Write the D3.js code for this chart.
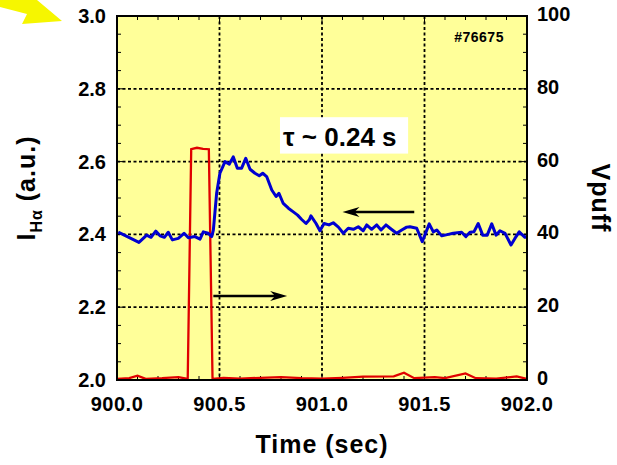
<!DOCTYPE html>
<html>
<head>
<meta charset="utf-8">
<script src="https://cdn.jsdelivr.net/npm/d3@7"></script>
<style>
  body { margin: 0; background: #fff; }
  text { font-family: "Liberation Sans", Arial, sans-serif; font-weight: bold; fill: #000; }
</style>
</head>
<body>
<div id="chart"></div>
<script>
// blue trace: H-alpha intensity (left axis)
var haTime = [900.006,900.107,900.145,900.166,900.189,900.210,900.231,900.250,900.270,900.299,900.327,900.348,900.380,900.405,900.421,900.445,900.462,900.470,900.486,900.502,900.527,900.548,900.567,900.587,900.608,900.628,900.649,900.673,900.694,900.711,900.730,900.755,900.776,900.790,900.811,900.836,900.860,900.881,900.901,900.922,900.938,900.946,900.971,900.990,901.010,901.034,901.055,901.080,901.104,901.128,901.153,901.177,901.201,901.218,901.242,901.267,901.288,901.312,901.332,901.364,901.389,901.413,901.429,901.462,901.489,901.523,901.543,901.560,901.584,901.616,901.640,901.681,901.702,901.722,901.741,901.762,901.784,901.806,901.828,901.849,901.868,901.893,901.922,901.941,901.962,901.990,902.0];
var haValue = [2.406,2.378,2.398,2.392,2.409,2.396,2.392,2.406,2.385,2.389,2.403,2.391,2.394,2.387,2.407,2.403,2.394,2.412,2.513,2.568,2.600,2.593,2.613,2.582,2.582,2.609,2.579,2.568,2.561,2.568,2.559,2.522,2.504,2.513,2.485,2.472,2.462,2.453,2.441,2.430,2.440,2.451,2.430,2.410,2.430,2.426,2.432,2.420,2.403,2.417,2.414,2.421,2.410,2.426,2.414,2.426,2.412,2.426,2.417,2.403,2.412,2.420,2.421,2.417,2.380,2.429,2.407,2.412,2.396,2.400,2.403,2.406,2.394,2.406,2.407,2.430,2.398,2.398,2.429,2.398,2.410,2.403,2.371,2.389,2.407,2.392,2.395];

// red trace: puff valve voltage (right axis)
var puffTime = [900.00,900.06,900.10,900.14,900.22,900.30,900.345,900.362,900.39,900.42,900.448,900.466,900.52,900.60,900.70,900.80,900.90,901.00,901.10,901.20,901.35,901.40,901.45,901.55,901.60,901.70,901.75,901.85,901.95,902.00];
var puffValue = [0.3,0.5,1.2,0.3,0.5,0.8,0.3,63.4,63.8,63.5,63.4,0.3,0.6,0.4,0.6,0.8,0.5,0.4,0.6,0.9,1.0,2.0,0.5,0.8,0.5,1.8,0.5,0.4,1.0,0.3];

var xTicks = [900.0, 900.5, 901.0, 901.5, 902.0];
var yLeftTicks = [2.0, 2.2, 2.4, 2.6, 2.8, 3.0];
var yRightTicks = [0, 20, 40, 60, 80, 100];

var margin = {top: 16, right: 90, bottom: 85, left: 117},
    width = 617 - margin.left - margin.right,
    height = 465 - margin.top - margin.bottom;

var x = d3.scaleLinear().domain([900, 902]).range([0, width]);
var yL = d3.scaleLinear().domain([2, 3]).range([height, 0]);
var yR = d3.scaleLinear().domain([0, 100]).range([height, 0]);

var svg = d3.select("#chart").append("svg")
    .attr("width", 617)
    .attr("height", 465);

// yellow pointer arrow in the corner
svg.append("polygon")
    .attr("points", "0,0 20,0 37,0 62,21 22,24 27,14 0,7")
    .attr("fill", "#f6f600");

var g = svg.append("g")
    .attr("transform", "translate(" + margin.left + "," + margin.top + ")");

g.append("clipPath").attr("id", "clip")
  .append("rect").attr("width", width).attr("height", height);

g.append("rect")
    .attr("width", width)
    .attr("height", height)
    .attr("fill", "#ffff99");

// dotted grid
g.selectAll(".vgrid")
    .data(xTicks.slice(1, -1))
  .enter().append("line")
    .attr("x1", function(d) { return x(d); })
    .attr("x2", function(d) { return x(d); })
    .attr("y1", 0).attr("y2", height)
    .attr("stroke", "#000").attr("stroke-width", 1.8)
    .attr("stroke-dasharray", "3,2.5");

g.selectAll(".hgrid")
    .data(yLeftTicks.slice(1, -1))
  .enter().append("line")
    .attr("y1", function(d) { return yL(d); })
    .attr("y2", function(d) { return yL(d); })
    .attr("x1", 0).attr("x2", width)
    .attr("stroke", "#000").attr("stroke-width", 1.8)
    .attr("stroke-dasharray", "3,2.5");

// inward ticks on all four sides
var minorX = d3.range(900, 902.001, 0.1);
var minorY = d3.range(2, 3.001, 0.05);
function tickLen(v, step) { return Math.abs(v / step - Math.round(v / step)) < 1e-6 ? 6 : 4; }

g.selectAll(".tb").data(minorX).enter().append("line")
    .attr("x1", function(d) { return x(d); }).attr("x2", function(d) { return x(d); })
    .attr("y1", height).attr("y2", function(d) { return height - tickLen(d, 0.5); })
    .attr("stroke", "#000").attr("stroke-width", 1);
g.selectAll(".tt").data(minorX).enter().append("line")
    .attr("x1", function(d) { return x(d); }).attr("x2", function(d) { return x(d); })
    .attr("y1", 0).attr("y2", function(d) { return tickLen(d, 0.5); })
    .attr("stroke", "#000").attr("stroke-width", 1);
g.selectAll(".tl").data(minorY).enter().append("line")
    .attr("y1", function(d) { return yL(d); }).attr("y2", function(d) { return yL(d); })
    .attr("x1", 0).attr("x2", function(d) { return tickLen(d, 0.2); })
    .attr("stroke", "#000").attr("stroke-width", 1);
g.selectAll(".tr").data(minorY).enter().append("line")
    .attr("y1", function(d) { return yL(d); }).attr("y2", function(d) { return yL(d); })
    .attr("x1", width).attr("x2", function(d) { return width - tickLen(d, 0.2); })
    .attr("stroke", "#000").attr("stroke-width", 1);

// the data lines
var haLine = d3.line()
    .x(function(d, i) { return x(haTime[i]); })
    .y(function(d) { return yL(d); });
var puffLine = d3.line()
    .x(function(d, i) { return x(puffTime[i]); })
    .y(function(d) { return yR(d); });

var plot = g.append("g").attr("clip-path", "url(#clip)");
plot.append("path")
    .datum(puffValue)
    .attr("d", puffLine)
    .attr("fill", "none")
    .attr("stroke", "#e00000")
    .attr("stroke-width", 2.3);
plot.append("path")
    .datum(haValue)
    .attr("d", haLine)
    .attr("fill", "none")
    .attr("stroke", "#0000d0")
    .attr("stroke-width", 3)
    .attr("stroke-linejoin", "round");

// frame
g.append("rect")
    .attr("width", width)
    .attr("height", height)
    .attr("fill", "none")
    .attr("stroke", "#000")
    .attr("stroke-width", 2);

// tick labels
g.selectAll(".xl").data(xTicks).enter().append("text")
    .attr("x", function(d) { return x(d); })
    .attr("y", height + 31)
    .attr("text-anchor", "middle")
    .style("font-size", "20px")
    .style("letter-spacing", "0.5px")
    .text(function(d) { return d3.format(".1f")(d); });

g.selectAll(".yl").data(yLeftTicks).enter().append("text")
    .attr("x", -11)
    .attr("y", function(d) { return yL(d) + 7; })
    .attr("text-anchor", "end")
    .style("font-size", "20px")
    .text(function(d) { return d3.format(".1f")(d); });

g.selectAll(".yr").data(yRightTicks).enter().append("text")
    .attr("x", width + 10)
    .attr("y", function(d) { return yR(d) + 5; })
    .style("font-size", "20px")
    .text(function(d) { return d; });

// axis titles
svg.append("text")
    .attr("x", margin.left + width / 2)
    .attr("y", 453)
    .attr("text-anchor", "middle")
    .style("font-size", "25px")
    .style("letter-spacing", "1px")
    .text("Time (sec)");

var yTitle = svg.append("text")
    .attr("transform", "translate(35,188) rotate(-90)")
    .attr("text-anchor", "middle")
    .style("font-size", "25px")
    .style("letter-spacing", "1px");
yTitle.append("tspan").text("I");
yTitle.append("tspan").attr("dy", 7).style("font-size", "16px").text("H\u03b1");
yTitle.append("tspan").attr("dy", -7).text(" (a.u.)");

svg.append("text")
    .attr("transform", "translate(592,198) rotate(90)")
    .attr("text-anchor", "middle")
    .style("font-size", "25px")
    .style("letter-spacing", "1px")
    .text("Vpuff");

// annotations
g.append("text")
    .attr("x", x(901.645))
    .attr("y", 25.5)
    .style("font-size", "14px")
    .style("letter-spacing", "0.5px")
    .text("#76675");

g.append("rect")
    .attr("x", x(900.795))
    .attr("y", yL(2.722))
    .attr("width", x(901.42) - x(900.795))
    .attr("height", yL(2.622) - yL(2.722))
    .attr("fill", "#fff");
g.append("text")
    .attr("x", x(900.81))
    .attr("y", yL(2.643))
    .style("font-size", "26px")
    .text("\u03c4 ~ 0.24 s");

function arrow(t0, t1, v) {
  var y = yL(v), dir = t1 > t0 ? 1 : -1, xe = x(t1);
  g.append("line")
      .attr("x1", x(t0)).attr("x2", xe - dir * 6)
      .attr("y1", y).attr("y2", y)
      .attr("stroke", "#000").attr("stroke-width", 2.5);
  g.append("path")
      .attr("d", "M" + xe + "," + y +
                 "L" + (xe - dir * 17) + "," + (y - 5) +
                 "L" + (xe - dir * 12) + "," + y +
                 "L" + (xe - dir * 17) + "," + (y + 5) + "Z")
      .attr("fill", "#000");
}
arrow(901.45, 901.1, 2.4615);
arrow(900.47, 900.83, 2.2308);
</script>
</body>
</html>
